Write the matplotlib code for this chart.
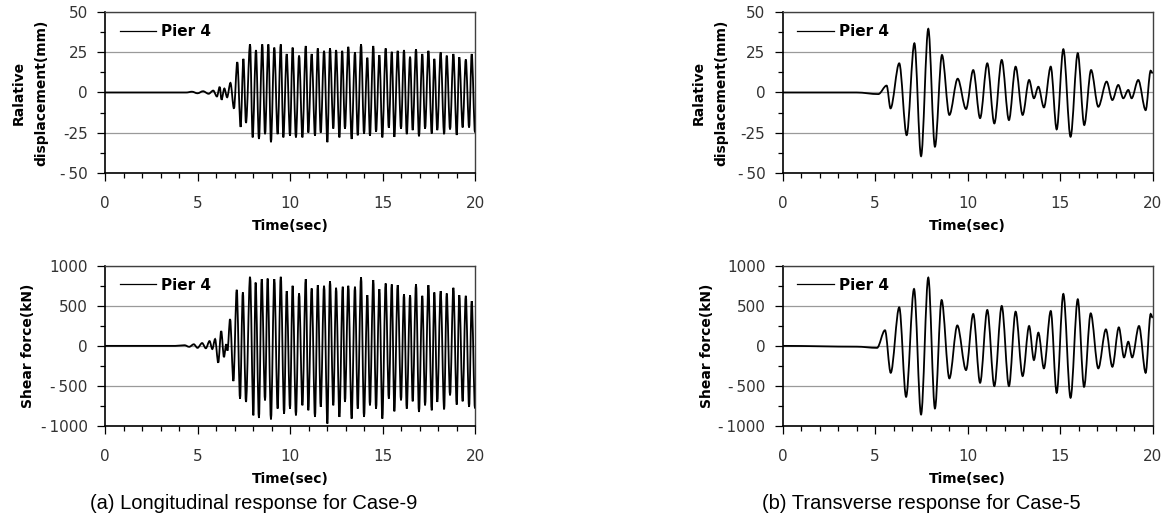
import matplotlib
matplotlib.use('Agg')
import matplotlib.pyplot as plt
from matplotlib.lines import Line2D
from matplotlib.path import Path
from matplotlib.patches import PathPatch
from matplotlib.ticker import MultipleLocator

# --- data: peaks/troughs (time in s) ---
long_disp_t = [0.0, 4.4, 4.7, 5.0, 5.3, 5.6, 5.85, 6.05, 6.2, 6.3, 6.45, 6.6, 6.78, 6.97,
               7.15, 7.33, 7.48, 7.62, 7.84, 7.98, 8.16, 8.32, 8.50, 8.65, 8.83, 8.97,
               9.15, 9.33, 9.50, 9.64, 9.82, 10.0, 10.14, 10.32, 10.49, 10.67, 10.85, 10.99,
               11.17, 11.35, 11.50, 11.66, 11.84, 12.02, 12.16, 12.34, 12.49, 12.67, 12.82, 12.97,
               13.15, 13.33, 13.51, 13.66, 13.84, 14.0, 14.18, 14.32, 14.50, 14.65, 14.83, 14.99,
               15.17, 15.34, 15.50, 15.64, 15.82, 16.0, 16.16, 16.31, 16.49, 16.63, 16.81, 16.97,
               17.15, 17.30, 17.48, 17.66, 17.80, 17.96, 18.14, 18.33, 18.47, 18.65, 18.83, 19.01,
               19.15, 19.33, 19.50, 19.68, 19.82, 20.0]
long_disp_v = [0, 0, 0.5, -0.5, 0.8, -0.8, 1.2, -2.5, 3.5, -4.5, 2.5, -3, 6, -10,
               19, -21.5, 21, -19, 30, -28, 26.5, -29, 30, -26, 30, -31,
               28, -26, 30, -28, 24, -27, 28, -28, 23, -28, 29, -25,
               24, -27, 27.5, -25, 26, -31, 27.5, -22.5, 26.5, -28, 26, -22.5,
               28.5, -29, 25, -26.7, 30, -25.6, 21.7, -27, 29, -24.5, 23.3, -28,
               27.5, -22, 25.4, -27.7, 26, -22.5, 26.5, -26, 22.3, -23.5, 27, -27.3,
               24, -22.5, 26, -25.6, 21, -23.5, 25, -26, 23, -23, 24, -26.5,
               22, -21.8, 20.6, -21.8, 24, -25]

long_shear_t = [0.0, 3.8, 4.3, 4.55, 4.8, 5.0, 5.25, 5.45, 5.65, 5.8, 5.95, 6.12, 6.28, 6.43,
                6.55, 6.62, 6.76, 6.94,
                7.12, 7.30, 7.45, 7.62, 7.84, 8.02, 8.14, 8.32, 8.47, 8.65, 8.79, 8.97,
                9.15, 9.33, 9.50, 9.68, 9.82, 10.0, 10.14, 10.32, 10.49, 10.67, 10.85, 10.99,
                11.17, 11.35, 11.50, 11.66, 11.84, 12.02, 12.16, 12.34, 12.49, 12.67, 12.85, 12.97,
                13.15, 13.33, 13.51, 13.66, 13.84, 14.0, 14.18, 14.32, 14.50, 14.65, 14.83, 14.99,
                15.17, 15.34, 15.50, 15.64, 15.82, 16.0, 16.16, 16.31, 16.49, 16.63, 16.81, 16.97,
                17.15, 17.30, 17.48, 17.66, 17.80, 17.96, 18.14, 18.33, 18.47, 18.65, 18.83, 19.01,
                19.15, 19.33, 19.50, 19.68, 19.82, 20.0]
long_shear_v = [0, 0, 8, -12, 20, -25, 35, -30, 60, -40, 85, -210, 185, -140,
                20, -60, 335, -440,
                700, -660, 667, -700, 862, -867, 790, -900, 833, -680, 840, -917,
                833, -783, 862, -846, 683, -783, 750, -867, 654, -742, 833, -804,
                717, -887, 758, -760, 750, -970, 808, -742, 725, -887, 738, -700,
                750, -908, 738, -783, 854, -887, 633, -742, 821, -783, 708, -908,
                779, -658, 767, -817, 758, -679, 646, -783, 633, -692, 767, -825,
                625, -742, 758, -804, 667, -700, 683, -792, 654, -617, 725, -733,
                633, -692, 625, -762, 558, -783]

trans_disp_t = [0.0, 4.0, 5.17, 5.62, 5.83, 6.30, 6.70, 7.12, 7.48, 7.87, 8.23, 8.61, 9.01,
                9.46, 9.91, 10.30, 10.67, 11.06, 11.44, 11.84, 12.23, 12.59, 12.97, 13.32,
                13.58, 13.82, 14.12, 14.49, 14.81, 15.17, 15.56, 15.95, 16.30, 16.67, 17.06,
                17.51, 17.82, 18.14, 18.41, 18.68, 18.86, 19.22, 19.62, 19.89, 20.0]
trans_disp_v = [0, 0, -1, 4.3, -9.9, 18.2, -26.6, 30.7, -39.7, 39.7, -33.8, 23.4, -14,
                8.6, -10.3, 14, -16, 18.2, -19.3, 20.3, -17.2, 16.1, -14, 7.8,
                -3.6, 3.6, -9.3, 16.1, -23, 27, -27.6, 24.5, -20.3, 14, -8.9,
                6.8, -4.7, 4.7, -3.6, 1.6, -3.6, 7.8, -11, 13.6, 12]

trans_shear_t = [0.0, 4.0, 5.1, 5.53, 5.84, 6.30, 6.67, 7.10, 7.48, 7.87, 8.23, 8.59, 9.01,
                 9.44, 9.91, 10.30, 10.67, 11.06, 11.44, 11.84, 12.23, 12.59, 12.97, 13.32,
                 13.58, 13.82, 14.12, 14.49, 14.81, 15.17, 15.56, 15.95, 16.29, 16.65, 17.06,
                 17.47, 17.82, 18.17, 18.45, 18.68, 18.89, 19.26, 19.62, 19.89, 20.0]
trans_shear_v = [0, -10, -25, 195, -336, 481, -636, 710, -856, 852, -781, 572, -406,
                 255, -302, 398, -461, 448, -502, 498, -502, 427, -377, 248,
                 -177, 165, -281, 435, -586, 648, -648, 581, -511, 406, -281,
                 206, -261, 231, -144, 52, -144, 248, -336, 398, 350]

time_ticks = [0, 5, 10, 15, 20]
time_labels = ['0', '5', '10', '15', '20']
disp_ticks = [-50, -25, 0, 25, 50]
disp_labels = ['-\u200950', '-25', '0', '25', '50']
shear_ticks = [-1000, -500, 0, 500, 1000]
shear_labels = ['-\u20091000', '-\u2009500', '0', '500', '1000']

legend_label = 'Pier 4'
disp_ylabel = 'Ralative\ndisplacement(mm)'
shear_ylabel = 'Shear force(kN)'
x_label = 'Time(sec)'
caption_a = '(a) Longitudinal response for Case-9'
caption_b = '(b) Transverse response for Case-5'


def smooth_line(ax, t, v):
    # Excel-style smoothed line through the extrema (flat tangent at each point)
    verts = [(t[0], v[0])]
    codes = [Path.MOVETO]
    for i in range(len(t) - 1):
        dt = (t[i + 1] - t[i]) / 3.0
        verts += [(t[i] + dt, v[i]), (t[i + 1] - dt, v[i + 1]), (t[i + 1], v[i + 1])]
        codes += [Path.CURVE4] * 3
    ax.add_patch(PathPatch(Path(verts, codes), fill=False, lw=1.3,
                           edgecolor='black', zorder=3))


def draw_panel(ax, t, v, yticks, ylabels, ylabel, label_x):
    smooth_line(ax, t, v)
    ax.set_xlim(0, 20)
    ax.set_ylim(yticks[0], yticks[-1])

    ax.set_xticks(time_ticks)
    ax.set_xticklabels(time_labels)
    ax.xaxis.set_minor_locator(MultipleLocator(1))
    ax.set_yticks(yticks)
    ax.set_yticklabels(ylabels)
    ax.yaxis.set_minor_locator(MultipleLocator((yticks[1] - yticks[0]) / 2))

    ax.yaxis.grid(True, color='#9a9a9a', lw=0.9)
    ax.set_axisbelow(True)

    ax.tick_params(which='major', direction='out', length=5.5, width=0.9,
                   labelsize=11, labelcolor='#333333')
    ax.tick_params(which='minor', direction='out', length=3.5, width=0.9)
    ax.tick_params(axis='x', which='major', pad=11)
    ax.tick_params(axis='y', which='major', pad=7)

    for side in ['left', 'bottom']:
        ax.spines[side].set_linewidth(1.2)
        ax.spines[side].set_color('black')
    for side in ['top', 'right']:
        ax.spines[side].set_linewidth(1.0)
        ax.spines[side].set_color('#404040')

    ax.set_ylabel(ylabel, fontsize=10, fontweight='bold', linespacing=1.8, va='center')
    ax.yaxis.set_label_coords(label_x, 0.5)
    ax.set_xlabel(x_label, fontsize=10, fontweight='bold', va='center')
    ax.xaxis.set_label_coords(0.5, -0.33)

    ax.legend(handles=[Line2D([], [], color='black', lw=0.9)], labels=[legend_label],
              loc='center left', bbox_to_anchor=(0.04, 0.879), frameon=False,
              borderpad=0, borderaxespad=0, handlelength=2.4, handletextpad=0.3,
              prop={'weight': 'bold', 'size': 11})


fig = plt.figure(figsize=(11.68, 5.26), dpi=100)

ax_a1 = fig.add_axes([0.0899, 0.6717, 0.3168, 0.3049])
ax_a2 = fig.add_axes([0.0899, 0.1901, 0.3168, 0.3047])
ax_b1 = fig.add_axes([0.6701, 0.6717, 0.3168, 0.3049])
ax_b2 = fig.add_axes([0.6701, 0.1901, 0.3168, 0.3047])

draw_panel(ax_a1, long_disp_t, long_disp_v, disp_ticks, disp_labels, disp_ylabel, -0.203)
draw_panel(ax_a2, long_shear_t, long_shear_v, shear_ticks, shear_labels, shear_ylabel, -0.207)
draw_panel(ax_b1, trans_disp_t, trans_disp_v, disp_ticks, disp_labels, disp_ylabel, -0.196)
draw_panel(ax_b2, trans_shear_t, trans_shear_v, shear_ticks, shear_labels, shear_ylabel, -0.204)

fig.text(254 / 1168, 1 - 503.3 / 526, caption_a, ha='center', va='center',
         fontsize=14.5, family='Liberation Sans')
fig.text(921 / 1168, 1 - 503.3 / 526, caption_b, ha='center', va='center',
         fontsize=14.5, family='Liberation Sans')

fig.savefig('out.png', dpi=100)
plt.close(fig)
